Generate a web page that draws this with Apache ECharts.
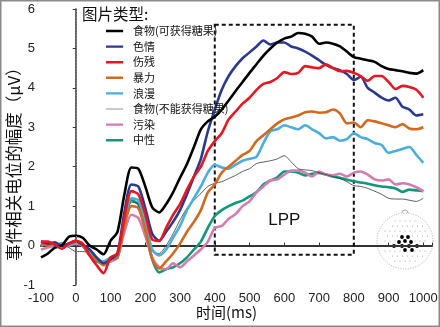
<!DOCTYPE html>
<html><head><meta charset="utf-8">
<script src="https://cdn.jsdelivr.net/npm/echarts@6/dist/echarts.min.js"></script>
<style>html,body{margin:0;padding:0;background:#fff}#c{width:440px;height:327px}</style>
</head><body><div id="c"></div>
<script>
const times = [];
for (let t = -100; t <= 1000; t += 20) times.push(t);
const seriesNames = ['食物(可获得糖果)','色情','伤残','暴力','浪漫','食物(不能获得糖果)','污染','中性'];
const foodCandy = [-0.3,-0.2,-0.05,0.0,0.22,0.25,0.2,0.0,-0.1,-0.22,0.12,0.35,1.3,1.98,1.95,1.5,0.97,0.84,1.05,1.35,1.72,2.07,2.5,2.95,3.15,3.27,3.45,3.68,3.92,4.15,4.38,4.6,4.82,5.0,5.15,5.25,5.3,5.39,5.37,5.3,5.12,5.15,5.12,5.05,4.92,4.78,4.74,4.7,4.66,4.55,4.48,4.45,4.42,4.38,4.36,4.45];
const erotic = [0.1,0.05,0.08,0.0,0.05,0.12,0.02,-0.1,-0.3,-0.45,-0.35,-0.2,0.85,1.55,1.5,0.95,0.3,0.12,0.35,0.6,0.9,1.3,1.75,2.2,2.9,3.45,3.95,4.3,4.55,4.75,4.9,5.05,5.2,5.1,5.15,5.15,5.05,5.0,4.92,4.82,4.7,4.58,4.5,4.45,4.35,4.2,4.28,4.0,3.88,3.75,3.68,3.75,3.52,3.45,3.3,3.33];
const mutilation = [0.1,0.1,0.02,-0.08,0.05,0.12,0.05,-0.25,-0.5,-0.7,-0.3,-0.2,0.7,1.38,1.3,0.8,0.15,0.12,0.45,0.78,1.05,1.42,1.75,2.0,2.4,2.65,2.85,3.2,3.4,3.6,3.75,3.95,4.1,4.15,4.25,4.4,4.35,4.38,4.55,4.52,4.5,4.6,4.5,4.42,4.43,4.38,4.3,4.18,4.3,4.3,4.15,3.97,4.05,4.02,3.95,3.75];
const violence = [0.05,0.0,0.05,0.0,0.05,0.1,0.0,-0.25,-0.35,-0.5,-0.35,-0.3,0.5,1.0,0.95,0.4,-0.35,-0.58,-0.4,-0.2,0.05,0.35,0.6,0.9,1.35,1.55,1.85,2.0,2.15,2.3,2.4,2.65,2.8,2.95,3.1,3.2,3.25,3.3,3.38,3.4,3.37,3.38,3.45,3.35,3.1,3.12,3.0,3.18,3.15,3.1,3.05,3.0,3.08,2.97,2.95,3.0];
const romance = [0.0,0.05,0.0,0.05,0.0,0.1,0.0,-0.2,-0.35,-0.4,-0.3,-0.25,0.6,1.2,1.15,0.6,-0.1,-0.25,-0.1,0.2,0.5,0.9,1.2,1.5,1.85,2.05,1.98,1.95,2.05,2.15,2.2,2.25,2.6,2.9,2.95,3.05,3.0,2.95,3.05,2.95,2.85,2.72,2.75,2.66,2.7,2.85,2.75,2.7,2.6,2.55,2.35,2.4,2.45,2.5,2.3,2.1];
const foodNoCandy = [0.05,0.05,0.0,0.0,-0.05,-0.15,-0.15,-0.2,-0.35,-0.45,-0.35,-0.25,0.55,1.1,1.05,0.45,-0.15,-0.2,0.0,0.3,0.65,0.95,1.15,1.32,1.5,1.58,1.62,1.7,1.78,1.88,1.95,2.08,2.12,2.15,2.2,2.28,2.12,1.95,1.92,1.9,1.85,1.8,1.75,1.7,1.62,1.52,1.5,1.45,1.38,1.3,1.2,1.18,1.18,1.15,1.12,1.2];
const pollution = [-0.1,-0.05,0.0,0.05,0.0,0.05,0.0,-0.2,-0.35,-0.45,-0.4,-0.3,0.35,0.78,0.7,0.25,-0.3,-0.55,-0.6,-0.45,-0.55,-0.4,-0.25,-0.1,0.1,0.45,0.5,0.68,0.8,1.0,1.12,1.35,1.5,1.65,1.68,1.8,1.9,1.9,1.85,1.75,1.88,1.8,1.78,1.82,1.75,1.85,1.88,1.8,1.68,1.65,1.68,1.55,1.58,1.55,1.48,1.38];
const neutral = [0.0,0.05,0.0,0.05,0.0,0.08,0.0,-0.25,-0.4,-0.45,-0.4,-0.3,0.55,1.15,1.05,0.4,-0.35,-0.68,-0.6,-0.55,-0.45,-0.3,-0.1,0.1,0.45,0.75,0.9,1.0,1.08,1.14,1.25,1.35,1.55,1.65,1.73,1.88,1.88,1.85,1.78,1.82,1.84,1.8,1.75,1.72,1.67,1.63,1.6,1.57,1.53,1.5,1.48,1.45,1.36,1.42,1.4,1.38];
const xTicks = [-100,0,100,200,300,400,500,600,700,800,900,1000];
const yTicks = [-1,0,1,2,3,4,5,6];
const lppWindow = [400, 800];
const lppRange = [-0.23, 5.6];
const lppLabelValue = 0.63;
const onsetTime = 0;

const allValues = [foodCandy, erotic, mutilation, violence, romance, foodNoCandy, pollution, neutral];
const colors = ['#000000','#2b3990','#e8161e','#d2691e','#4aaedc','#333333','#d27cb0','#12977a'];
const widths = [2.6,2.6,2.6,2.6,2.6,0.8,2.6,2.6];
const drawOrder = [7,6,5,4,3,1,0,2];

const thickIcon = 'path://M0,5.6H20V8.4H0Z M0,0H0.01V0.01H0Z M0,14H0.01V14.01H0Z';
const thinIcon = 'path://M0,6.6H20V7.4H0Z M0,0H0.01V0.01H0Z M0,14H0.01V14.01H0Z';

const chart = echarts.init(document.getElementById('c'), null, {renderer:'canvas'});
const series = drawOrder.map(i => ({
  name: seriesNames[i], type:'line', symbol:'none', smooth:0.25,
  data: times.map((t,k)=>[t, allValues[i][k]]),
  lineStyle:{color:colors[i], width:widths[i]}, itemStyle:{color:colors[i]},
  z: 3
}));
series[0].markLine = {silent:true, symbol:'none', label:{show:false},
  lineStyle:{color:'#888', type:[1,2], width:1}, data:[{xAxis:onsetTime}]};
series[0].markArea = {silent:true,
  itemStyle:{color:'transparent', borderColor:'#111', borderWidth:2, borderType:[4,3]},
  label:{show:false},
  data:[[{coord:[lppWindow[0], lppRange[1]]},{coord:[lppWindow[1], lppRange[0]]}]]};
series[0].markPoint = {silent:true, symbol:'circle', symbolSize:0,
  label:{show:true, formatter:'LPP', color:'#111', fontSize:17, fontFamily:'Liberation Sans'},
  data:[{coord:[(lppWindow[0]+lppWindow[1])/2, lppLabelValue]}]};

// head icon decoration
const hx = 405, hy = 241, hr = 28;
const headEls = [];
headEls.push({type:'circle', shape:{cx:hx, cy:hy, r:hr}, style:{fill:'#fff', stroke:'#999', lineWidth:0.8, lineDash:[1,1.5]}});
headEls.push({type:'arc', shape:{cx:hx, cy:hy-hr, r:3, startAngle:Math.PI, endAngle:2*Math.PI}, style:{fill:'none', stroke:'#999', lineWidth:0.8}});
for (let gx=-25; gx<=25; gx+=5) for (let gy=-25; gy<=25; gy+=5) {
  if (gx*gx+gy*gy < (hr-3)*(hr-3)) headEls.push({type:'circle', shape:{cx:hx+gx+ (gy%10===0?0:2.5), cy:hy+gy, r:0.55}, style:{fill:'#9a9a9a'}});
}
const blackDots = [[-3,-4],[3,-4],[-6,1],[0,0],[6,1],[-11,5],[-3,5],[4,5],[12,5],[0,9],[7,9]];
blackDots.forEach(d=>headEls.push({type:'circle', shape:{cx:hx+d[0], cy:hy+d[1], r:1.9}, style:{fill:'#000'}}));

chart.setOption({
  animation:false,
  backgroundColor:'#fff',
  title:{text:'图片类型:', left:77, top:1, textStyle:{fontSize:15.5, fontWeight:'normal', color:'#111', fontFamily:'Noto Sans CJK SC'}},
  legend:{orient:'vertical', left:101, top:20, itemWidth:21, itemHeight:12, itemGap:3.6,
    data:seriesNames.map((n,i)=>({name:n, icon: widths[i] < 1.5 ? thinIcon : thickIcon, itemStyle:{color:colors[i]}})),
    selectedMode:false,
    textStyle:{fontSize:11, lineHeight:12, color:'#111', fontFamily:'Noto Sans CJK SC', padding:[0,0,0,3]}},
  grid:{left:41, right:8, top:9, bottom:42, containLabel:false, outerBoundsMode:'none'},
  xAxis:{type:'value', min:-100, max:1025, interval:100,
    axisLine:{lineStyle:{color:'#333', width:2}},
    axisTick:{inside:true, length:3, lineStyle:{color:'#333'}},
    axisLabel:{color:'#222', fontSize:13, fontFamily:'Liberation Sans', margin:7,
      formatter:v=> xTicks.includes(v) ? String(v) : ''},
    splitLine:{show:false}},
  yAxis:{type:'value', min:-1, max:6, interval:1,
    axisLine:{show:true, lineStyle:{color:'#333', width:1.5}},
    axisTick:{show:true, inside:false, length:3, lineStyle:{color:'#333'}},
    axisLabel:{color:'#222', fontSize:13, fontFamily:'Liberation Sans', margin:6,
      formatter:v=> yTicks.includes(v) ? String(v) : ''},
    splitLine:{show:false}},
  graphic:[
    {type:'text', x:14, y:160, rotation:Math.PI/2, silent:true,
      style:{text:'事件相关电位的幅度（μV）', fontSize:16.5, fill:'#111', fontFamily:'Noto Sans CJK SC', textAlign:'center', textVerticalAlign:'middle'}},
    {type:'text', left:196, top:305, style:{text:'时间(ms)', fontSize:15, fill:'#111', fontFamily:'Noto Sans CJK SC'}},
    {type:'rect', shape:{x:0.75, y:0.75, width:438.5, height:325.5}, style:{fill:'none', stroke:'#8a8a8a', lineWidth:1.5}, silent:true},
    {type:'group', children:headEls, silent:true}
  ],
  series: series
});
</script></body></html>
